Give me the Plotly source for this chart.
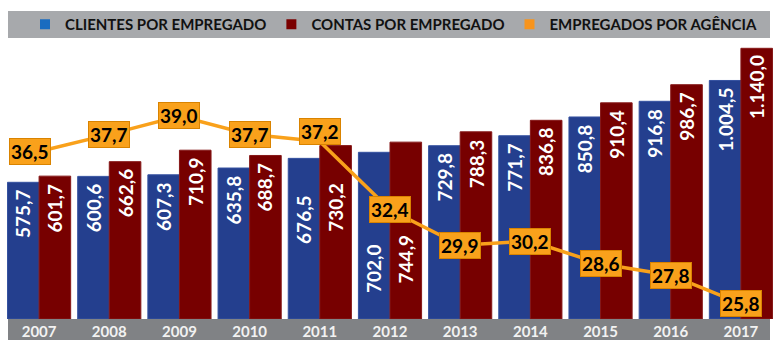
import plotly.graph_objects as go

years = ["2007", "2008", "2009", "2010", "2011", "2012", "2013", "2014", "2015", "2016", "2017"]
clientes = [575.7, 600.6, 607.3, 635.8, 676.5, 702.0, 729.8, 771.7, 850.8, 916.8, 1004.5]
contas = [601.7, 662.6, 710.9, 688.7, 730.2, 744.9, 788.3, 836.8, 910.4, 986.7, 1140.0]
agencia = [36.5, 37.7, 39.0, 37.7, 37.2, 32.4, 29.9, 30.2, 28.6, 27.8, 25.8]
series_names = ["CLIENTES POR EMPREGADO", "CONTAS POR EMPREGADO", "EMPREGADOS POR AGÊNCIA"]

# style lists (label offsets in px)
clientes_label_pad = [5, 5, 5, 5, 35, 90, 5, 5, 5, 5, 5]
contas_label_pad = [5, 5, 5, 5, 35, 90, 5, 5, 5, 5, 5]
agencia_label_xshift = [-9, 0, 0, 0, 0, 0, 0, 0, 0, 0, 0]
agencia_label_yshift = [0, 0, 0, 0, 10, 0, 0, 0, 0, 0, 0]

BLUE = "#243f8e"
RED = "#770000"
ORANGE = "#f9a11b"
LEG_BLUE = "#1a6cc0"
LEG_RED = "#7a0000"
LEG_ORANGE = "#f7941d"
FONT = "Lato"


def fmt(v):
    s = f"{v:,.1f}"
    return s.replace(",", "X").replace(".", ",").replace("X", ".")


W, H = 780, 350
ML, MR, MT, MB = 4, 4, 40, 31
PW = W - ML - MR
PH = H - MT - MB

fig = go.Figure()
fig.add_trace(go.Bar(x=years, y=clientes, marker=dict(color=BLUE, line=dict(color="#3552a0", width=1)),
                     showlegend=False, hoverinfo="skip"))
fig.add_trace(go.Bar(x=years, y=contas, marker=dict(color=RED, line=dict(color="#861818", width=1)),
                     showlegend=False, hoverinfo="skip"))
fig.add_trace(go.Scatter(x=years, y=agencia, yaxis="y2", mode="lines",
                         line=dict(color=ORANGE, width=3.5), showlegend=False, hoverinfo="skip"))

for name, col in zip(series_names, [LEG_BLUE, LEG_RED, LEG_ORANGE]):
    fig.add_trace(go.Scatter(x=[None], y=[None], mode="markers", name=name,
                             marker=dict(symbol="square", size=10, color=col)))

annotations = []
bar_half = 0.45 / 2 * PW / len(years)
for i, yr in enumerate(years):
    # category axes: annotation x given as the category index
    for vals, pads, sgn in ((clientes, clientes_label_pad, -1), (contas, contas_label_pad, 1)):
        annotations.append(dict(
            x=i, y=vals[i], xref="x", yref="y", text=fmt(vals[i]), showarrow=False,
            textangle=-90, xanchor="center", yanchor="top",
            xshift=sgn * bar_half, yshift=-pads[i],
            font=dict(family=FONT, size=19, color="white", weight="bold")))
    annotations.append(dict(
        x=i, y=agencia[i], xref="x", yref="y2", text=fmt(agencia[i]), showarrow=False,
        xanchor="center", yanchor="middle",
        xshift=agencia_label_xshift[i], yshift=agencia_label_yshift[i],
        bgcolor=ORANGE, bordercolor="#d98300", borderwidth=1, borderpad=1,
        font=dict(family=FONT, size=19, color="black", weight="bold")))

shapes = [
    dict(type="rect", xref="paper", yref="paper",
         x0=(8 - ML) / PW, x1=(770 - ML) / PW, y0=-21 / PH, y1=0,
         fillcolor="#808285", line=dict(width=0), layer="below"),
    dict(type="rect", xref="paper", yref="paper",
         x0=(8 - ML) / PW, x1=(770 - ML) / PW, y0=(H - MB - 38) / PH, y1=(H - MB - 11) / PH,
         fillcolor="#a7a9ac", line=dict(width=0), layer="below"),
]

fig.update_layout(
    width=W, height=H,
    margin=dict(l=ML, r=MR, t=MT, b=MB, pad=0),
    paper_bgcolor="white", plot_bgcolor="rgba(0,0,0,0)",
    barmode="group", bargap=0.1, bargroupgap=0,
    xaxis=dict(type="category", range=[-0.5, len(years) - 0.5], showgrid=False, zeroline=False,
               showline=False, ticks="", ticklabelstandoff=2,
               tickfont=dict(family=FONT, size=15, color="#f2f2f2", weight="bold"),
               fixedrange=True),
    yaxis=dict(range=[0, 1175], showgrid=False, zeroline=False, showline=False, showticklabels=False),
    yaxis2=dict(range=[24.72, 44.34], overlaying="y", showgrid=False, zeroline=False, showline=False,
                showticklabels=False),
    legend=dict(orientation="h", x=(25 - ML) / PW, xanchor="left", y=(H - MB - 24.5) / PH, yanchor="middle",
                bgcolor="rgba(0,0,0,0)", font=dict(family=FONT, size=15, color="#111111", weight="bold"),
                itemclick=False, itemdoubleclick=False),
    annotations=annotations,
    shapes=shapes,
    showlegend=True,
)

fig.write_html("out.html")
